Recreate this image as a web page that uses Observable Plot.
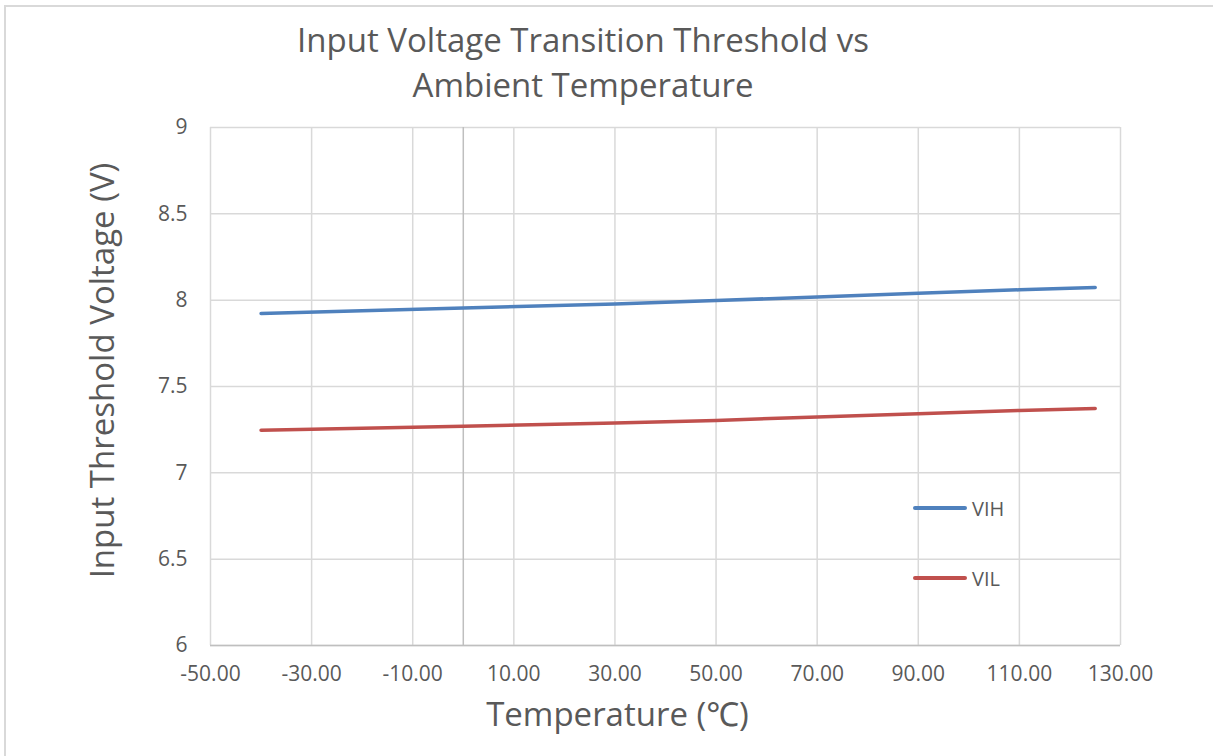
<!DOCTYPE html>
<html>
<head>
<meta charset="utf-8">
<script src="https://cdn.jsdelivr.net/npm/d3@7"></script>
<script src="https://cdn.jsdelivr.net/npm/@observablehq/plot@0.6"></script>
<style>
  html, body { margin: 0; padding: 0; background: #ffffff; }
  body { width: 1213px; height: 756px; overflow: hidden; position: relative; font-family: "Open Sans", "Noto Sans", sans-serif; color: #595959; }
  #frame { position: absolute; left: 4px; top: 5px; width: 1300px; height: 800px; border-top: 2px solid #d9d9d9; border-left: 2px solid #d9d9d9; pointer-events: none; }
  #title { height: 115px; width: 1166px; text-align: center; font-size: 33px; line-height: 45px; padding-top: 17px; box-sizing: border-box; color: #595959; }
  #legend { position: absolute; left: 913px; top: 0; font-size: 20px; color: #595959; }
  .item { position: absolute; left: 0; display: flex; align-items: center; white-space: nowrap; }
  .swatch { width: 54px; height: 4px; border-radius: 2px; margin-right: 5px; }
</style>
</head>
<body>
<div id="frame"></div>
<div id="title">Input Voltage Transition Threshold vs<br>Ambient Temperature</div>
<div id="chart"></div>
<div id="legend"></div>
<script>
// ---- data ----
const temperature = [-40, 0, 30, 50, 70, 90, 110, 125];
const vih = [7.923, 7.955, 7.978, 7.998, 8.018, 8.040, 8.060, 8.073];
const vil = [7.247, 7.270, 7.288, 7.303, 7.324, 7.342, 7.361, 7.373];
const seriesNames = ["VIH", "VIL"];
const seriesColors = ["#4f81bd", "#c0504d"];
const xTicks = [-50, -30, -10, 10, 30, 50, 70, 90, 110, 130];
const yTicks = [6, 6.5, 7, 7.5, 8, 8.5, 9];
const xTitle = "Temperature (\u2103)";
const yTitle = "Input Threshold Voltage (V)";

const rows = [];
seriesNames.forEach((name, i) => {
  const vals = i === 0 ? vih : vil;
  temperature.forEach((t, j) => rows.push({series: name, t, v: vals[j]}));
});

const chart = Plot.plot({
  width: 1213,
  height: 641,
  marginTop: 12,
  marginLeft: 210,
  marginRight: 93,
  marginBottom: 111,
  style: { fontFamily: '"Open Sans", "Noto Sans", sans-serif', color: "#595959", background: "transparent", overflow: "visible" },
  x: { domain: [-50, 130], label: null },
  y: { domain: [6, 9], label: null },
  color: { domain: seriesNames, range: seriesColors },
  marks: [
    Plot.gridX(xTicks, { stroke: "#d9d9d9", strokeOpacity: 1, strokeWidth: 1.5 }),
    Plot.gridY(yTicks, { stroke: "#d9d9d9", strokeOpacity: 1, strokeWidth: 1.5 }),
    Plot.ruleX([0], { stroke: "#bfbfbf", strokeWidth: 1.5 }),
    Plot.ruleY([6], { stroke: "#bfbfbf", strokeWidth: 1.5 }),
    Plot.axisX(xTicks, { tickSize: 0, tickPadding: 21, tickFormat: d => d.toFixed(2), fontSize: 21, label: null }),
    Plot.axisY(yTicks, { tickSize: 0, tickPadding: 23, tickFormat: d => String(d), fontSize: 21, label: null }),
    Plot.line(rows, { x: "t", y: "v", z: "series", stroke: "series", strokeWidth: 3.5, strokeLinecap: "round" }),
    Plot.text([xTitle], { frameAnchor: "bottom", dy: 70, dx: -48, fontSize: 33, fill: "#595959", lineAnchor: "middle", textAnchor: "middle" }),
    Plot.text([yTitle], { frameAnchor: "left", dx: -107, dy: -16, rotate: -90, fontSize: 33, fill: "#595959", lineAnchor: "middle", textAnchor: "middle" })
  ]
});
document.getElementById("chart").appendChild(chart);

// legend
const legend = document.getElementById("legend");
const legendTops = [508, 578];
seriesNames.forEach((name, i) => {
  const item = document.createElement("div");
  item.className = "item";
  item.style.top = (legendTops[i] - 14) + "px";
  item.style.height = "28px";
  const sw = document.createElement("div");
  sw.className = "swatch";
  sw.style.background = seriesColors[i];
  const label = document.createElement("span");
  label.textContent = name;
  item.appendChild(sw);
  item.appendChild(label);
  legend.appendChild(item);
});
</script>
</body>
</html>
